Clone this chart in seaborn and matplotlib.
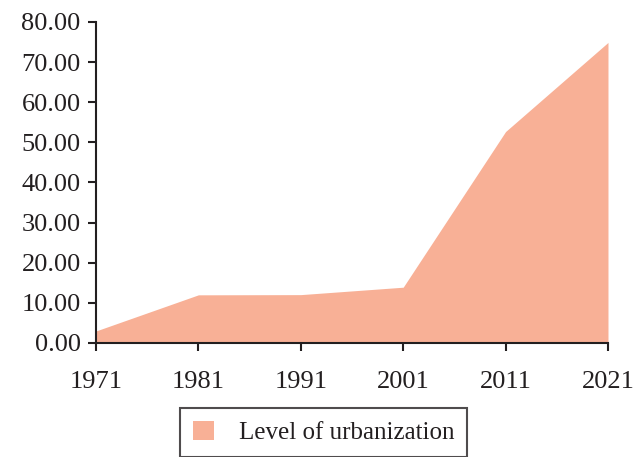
import numpy as np
import pandas as pd
import matplotlib
matplotlib.use('Agg')
import matplotlib.pyplot as plt
import seaborn as sns
from matplotlib.patches import Patch

# data
years = [1971, 1981, 1991, 2001, 2011, 2021]
urbanization = [3.0, 12.0, 12.05, 13.9, 52.7, 74.9]
series_label = 'Level of urbanization'
y_ticks = [0, 10, 20, 30, 40, 50, 60, 70, 80]

df = pd.DataFrame({'year': years, 'level': urbanization})

sns.set_style('ticks')
plt.rcParams['font.family'] = ['Liberation Serif', 'DejaVu Serif']
plt.rcParams['axes.linewidth'] = 1.5

fill_color = '#F8B096'
ink = '#231f20'

fig = plt.figure(figsize=(6.41, 4.57), dpi=100)
ax = fig.add_axes([0.1498, 0.2495, 0.7987, 0.7024])

# area chart: invisible seaborn line for scales, then filled underneath
sns.lineplot(data=df, x='year', y='level', ax=ax, color=fill_color, linewidth=0)
ax.fill_between(df['year'], df['level'], 0, color=fill_color, linewidth=0)

ax.set_xlim(years[0], years[-1])
ax.set_ylim(0, 80)
ax.set_xticks(years)
ax.set_xticklabels([str(y) for y in years])
ax.set_yticks(y_ticks)
ax.set_yticklabels([f'{v:.2f}' for v in y_ticks])
ax.set_xlabel('')
ax.set_ylabel('')

ax.tick_params(axis='both', direction='out', length=6, width=1.5, colors=ink,
               labelsize=19, labelcolor=ink)
ax.tick_params(axis='x', pad=14)
ax.tick_params(axis='y', pad=5)
for s in ['left', 'bottom']:
    ax.spines[s].set_color(ink)
sns.despine(ax=ax)

handle = Patch(facecolor=fill_color, edgecolor='none')
leg = fig.legend([handle], [series_label], loc='center', bbox_to_anchor=(0.505, 0.054),
                 frameon=True, fancybox=False, fontsize=18, handlelength=0.85,
                 handleheight=0.85, handletextpad=1.0, borderpad=0.5,
                 borderaxespad=0)
leg.get_frame().set_edgecolor(ink)
leg.get_frame().set_linewidth(1.5)
for t in leg.get_texts():
    t.set_color(ink)

fig.savefig('out.png', dpi=100)
